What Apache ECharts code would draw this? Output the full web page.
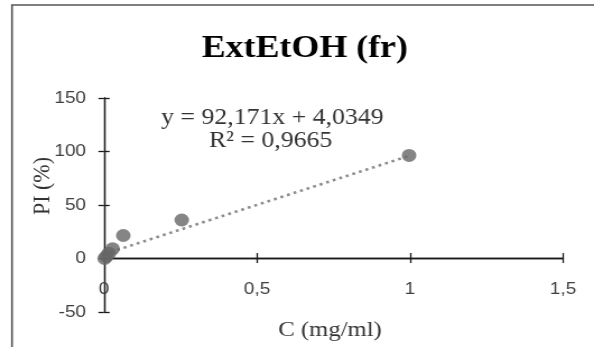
<!DOCTYPE html>
<html>
<head>
<meta charset="utf-8">
<script src="https://cdn.jsdelivr.net/npm/echarts@6/dist/echarts.min.js"></script>
<style>
  html, body { margin: 0; padding: 0; background: #fff; overflow: hidden; }
  /* the plot is laid out narrower and widened to fill the window */
  #chart { width: 530px; height: 347px; transform: scaleX(1.1208); transform-origin: 0 0; }
</style>
</head>
<body>
<div id="chart"></div>
<script>
// concentration (mg/ml) and inhibition percentage
const concentration = [0.002, 0.008, 0.016, 0.028, 0.063, 0.254, 0.997];
const inhibition = [0, 2, 5, 9, 21.5, 36, 96.3];

// linear trendline as reported
const slope = 92.171;
const intercept = 4.0349;
const rSquared = '0,9665';
const trendRange = [0, 1];

const xTicks = { min: 0, max: 1.5, interval: 0.5 };
const yTicks = { min: -50, max: 150, interval: 50 };

const commaFmt = v => String(v).replace('.', ',');
const eqText = 'y = ' + commaFmt(slope) + 'x + ' + commaFmt(intercept);
const r2Text = 'R² = ' + rSquared;

const points = concentration.map((x, i) => [x, inhibition[i]]);
const trend = trendRange.map(x => [x, slope * x + intercept]);

const labelFont = { fontFamily: 'Liberation Sans', fontSize: 17, color: '#404040' };
const lineStyle = { color: '#1a1a1a', width: 1.3 };

// plot area spans the full y range; the x axis is drawn in a second grid
// whose lower edge coincides with y = 0 of the plot
const plotGrid = { left: 92.8, right: 27.7, top: 98, bottom: 35 };
const zeroGrid = { left: 92.8, right: 27.7, top: 98, bottom: 89 };

function xAxisCfg(grid, inside, visible) {
  return {
    type: 'value', gridIndex: grid, position: 'bottom', ...xTicks,
    show: visible,
    splitLine: { show: false },
    axisLine: { show: true, onZero: false, lineStyle },
    axisTick: { show: true, inside, length: 5, lineStyle },
    axisLabel: inside ? { show: false } : { ...labelFont, margin: 23, formatter: commaFmt }
  };
}
function yAxisCfg(inside) {
  return {
    type: 'value', gridIndex: 0, position: 'left', ...yTicks,
    splitLine: { show: false },
    axisLine: { show: true, onZero: false, lineStyle },
    axisTick: { show: true, inside, length: 5, lineStyle },
    axisLabel: inside ? { show: false } : { ...labelFont, margin: 16, formatter: commaFmt }
  };
}

const chart = echarts.init(document.getElementById('chart'), null, { renderer: 'canvas' });
chart.setOption({
  animation: false,
  grid: [plotGrid, zeroGrid],
  xAxis: [xAxisCfg(0, false, false), xAxisCfg(1, false, true), xAxisCfg(1, true, true)],
  yAxis: [yAxisCfg(false), yAxisCfg(true),
          { type: 'value', gridIndex: 1, min: 0, max: 150, show: false }],
  graphic: [
    { type: 'rect', silent: true, z: -1,
      shape: { x: 10.7, y: 5, width: 700, height: 500 },
      style: { fill: 'none', stroke: '#555', lineWidth: 1.6 } },
    { type: 'text', x: 272, y: 49,
      style: { text: 'ExtEtOH (fr)', font: 'bold 32px "Liberation Serif"', fill: '#000',
               textAlign: 'center', textVerticalAlign: 'middle' } },
    { type: 'text', x: 243, y: 117.5,
      style: { text: eqText, font: '23px "Liberation Serif"', fill: '#333',
               textAlign: 'center', textVerticalAlign: 'middle' } },
    { type: 'text', x: 241.5, y: 140.5,
      style: { text: r2Text, font: '23px "Liberation Serif"', fill: '#333',
               textAlign: 'center', textVerticalAlign: 'middle' } },
    { type: 'text', x: 294.5, y: 330.5,
      style: { text: 'C (mg/ml)', font: '22px "Liberation Serif"', fill: '#333',
               textAlign: 'center', textVerticalAlign: 'middle' } },
    { type: 'text', x: 38, y: 186, rotation: Math.PI / 2,
      style: { text: 'PI (%)', font: '22px "Liberation Serif"', fill: '#333',
               textAlign: 'center', textVerticalAlign: 'middle' } }
  ],
  series: [
    { type: 'line', xAxisIndex: 0, yAxisIndex: 0, data: trend, symbol: 'none', z: 2,
      lineStyle: { color: '#8c8c8c', width: 2.6, type: [2.6, 3.6] } },
    { type: 'scatter', xAxisIndex: 0, yAxisIndex: 0, data: points, symbol: 'circle',
      symbolSize: 13, z: 3, itemStyle: { color: '#666666' } }
  ]
});
</script>
</body>
</html>
